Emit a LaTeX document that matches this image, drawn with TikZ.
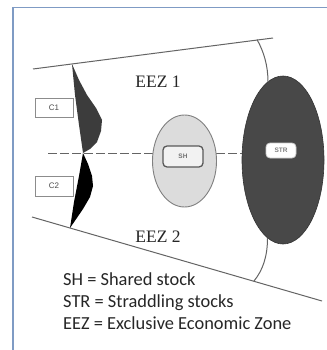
\documentclass[tikz,border=0pt]{standalone}
\usepackage{fontspec}
\setmainfont{Liberation Serif}
\newfontfamily\legendfont{Carlito}
\newfontfamily\labelfont{Liberation Sans}
\usetikzlibrary{shapes.geometric}
\definecolor{frameblue}{RGB}{127,155,196}
\definecolor{linegray}{RGB}{100,100,100}
\definecolor{strgray}{RGB}{72,72,72}
\definecolor{shgray}{RGB}{220,220,220}
\definecolor{cone}{RGB}{60,60,60}
\begin{document}
\begin{tikzpicture}[x=1pt,y=-1pt,
  edge/.style={draw=linegray, line width=1pt},
  midline/.style={draw=linegray, line width=1pt, dash pattern=on 9pt off 3pt},
  lblbox/.style={draw=black!45, fill=white, line width=0.9pt, inner sep=0pt,
     font=\labelfont\fontsize{8}{9}\selectfont, text=black!70},
  stockbox/.style={rounded corners=4pt, inner sep=0pt,
     font=\labelfont\bfseries\fontsize{6.5}{7}\selectfont},
  eez/.style={font=\fontsize{17.5}{19}\selectfont, text=black!85},
  legend/.style={anchor=base west, inner sep=0pt, font=\legendfont\fontsize{18.4}{20}\selectfont, text=black!85}]
\useasboundingbox (0,0) rectangle (326,350);
\fill[white] (0,0) rectangle (326,350);
\draw[frameblue, line width=1.2pt] (13,352) -- (13,7.5) -- (328,7.5);

% boundary lines
\coordinate (tl) at (33,69);
\coordinate (tr) at (273,38);
\coordinate (bl) at (32,217);
\coordinate (br) at (322,301);
\draw[edge] (tl) -- (tr);
\draw[edge] (bl) -- (br);

% dashed median line
\coordinate (ml) at (48,153);
\coordinate (mr) at (250,153);
\draw[midline] (ml) -- (mr);

% C1 and C2 stock shapes
\fill[cone] (72,64) -- (79,80) -- (87,95) -- (96,108) -- (102,120) -- (101,131)
  -- (97,142) -- (90,149) -- (83,153) -- (79,125) -- (75,95) -- cycle;
\fill[black] (83,153) -- (88,164) -- (92,176) -- (93,186) -- (90,197) -- (83,209)
  -- (70,228) -- (74,202) -- (79,176) -- cycle;

% ellipses
\node[ellipse, draw=black!50, fill=shgray, line width=0.9pt, minimum width=64pt,
  minimum height=92pt, inner sep=0pt] (sh) at (184.5,161) {};
\node[ellipse, draw=black!80, fill=strgray, line width=0.6pt, minimum width=82pt,
  minimum height=168pt, inner sep=0pt] (str) at (283,160) {};

% arcs
\coordinate (at) at (257,39.5);
\coordinate (ab) at (254,281);
\coordinate (st) at (268,82);
\coordinate (sb) at (267.5,238);
\draw[edge] (at) .. controls (264,52) and (268,66) .. (st);
\draw[edge] (sb) .. controls (267.5,256) and (263,270) .. (ab);

% labels
\node[lblbox, minimum width=38pt, minimum height=19pt] (c1) at (54,107.5) {C1};
\node[lblbox, minimum width=38pt, minimum height=20pt] (c2) at (54,186) {C2};
\node[stockbox, draw=black!65, fill=black!5, line width=1.3pt, text=black!55,
  minimum width=40pt, minimum height=21pt] (shl) at (183,156.5) {SH};
\node[stockbox, draw=black!20, fill=white, line width=0.8pt, text=black!50,
  minimum width=30pt, minimum height=15pt] (strl) at (281,150.5) {STR};

\node[eez] (e1) at (158,82) {EEZ 1};
\node[eez] (e2) at (158,237) {EEZ 2};

\node[legend] (l1) at (63,285) {SH = Shared stock};
\node[legend] (l2) at (63,307) {STR = Straddling stocks};
\node[legend] (l3) at (63,329) {EEZ = Exclusive Economic Zone};
\end{tikzpicture}
\end{document}
